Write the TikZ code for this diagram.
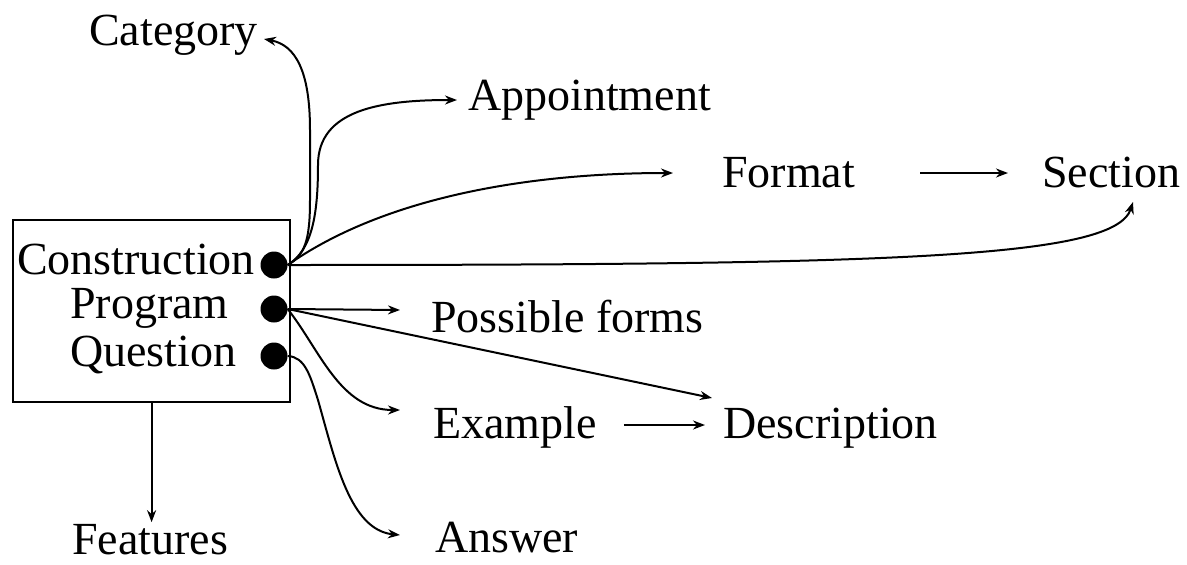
\documentclass[tikz,border=0pt]{standalone}
\usepackage{fontspec}
\setmainfont{Liberation Serif}
\usetikzlibrary{arrows.meta,calc}
\begin{document}
\begin{tikzpicture}[x=1pt,y=-1pt,
  word/.style={anchor=base west,inner sep=0pt,font=\fontsize{46}{50}\selectfont},
  dot/.style={circle,fill=black,inner sep=0pt,minimum size=27pt},
  arr/.style={line width=2pt,-{Stealth[length=12pt,width=9pt]}},
  frame/.style={draw,line width=2.2pt,inner sep=0pt}]
\useasboundingbox (0,0) rectangle (1187,565);

% the frame holding the three source terms
\node[frame,minimum width=277pt,minimum height=182pt,anchor=north west] (box) at (12,219) {};
\node[word] (cons) at (17,274) {Construction};
\node[word] (prog) at (70,318) {Program};
\node[word] (ques) at (70,366) {Question};
\node[dot] (c) at (274,265) {};
\node[dot] (p) at (274,309) {};
\node[dot] (q) at (274,356) {};

% target terms
\node[word] (cat) at (89,45) {Category};
\node[word] (app) at (468,110) {Appointment};
\node[word] (fmt) at (722,187) {Format};
\node[word] (sec) at (1042,187) {Section};
\node[word] (pos) at (431,332) {Possible forms};
\node[word] (exa) at (433,438) {Example};
\node[word] (des) at (723,438) {Description};
\node[word] (ans) at (435,552) {Answer};
\node[word] (fea) at (72,554) {Features};

% arrow tips just beside each term
\coordinate (catTip) at ($(cat.base east)+(6,-6)$);
\coordinate (appTip) at ($(app.base west)+(-11,-10)$);
\coordinate (fmtTip) at ($(fmt.base west)+(-49,-14)$);
\coordinate (secTip) at ($(sec.base west)+(91,15)$);
\coordinate (posTip) at ($(pos.base west)+(-31,-22)$);
\coordinate (desTip) at ($(des.base west)+(-11,-40)$);
\coordinate (exaTip) at ($(exa.base west)+(-33,-28)$);
\coordinate (ansTip) at ($(ans.base west)+(-35,-17)$);
\coordinate (feaTip) at ($(box.south)+(0,119)$);
\coordinate (exaOut) at ($(exa.base east)+(27,-13)$);
\coordinate (desIn) at ($(des.base west)+(-18,-13)$);
\coordinate (fmtOut) at ($(fmt.base east)+(65,-14)$);
\coordinate (secIn) at ($(sec.base west)+(-34,-14)$);

% connectors from Construction
\draw[arr] (c.east) .. controls (305,255) and (310,240) .. (310,200)
  -- (310,130) .. controls (310,70) and (295,45) .. (catTip);
\draw[arr] (c.east) .. controls (312,250) and (318,215) .. (318,165)
  .. controls (318,110) and (380,100) .. (appTip);
\draw[arr] (c.east) .. controls (380,200) and (520,173) .. (fmtTip);
\draw[arr] (c.east) .. controls (900,265) and (1115,258) .. (secTip);

% connectors from Program
\draw[arr] (p.east) -- (posTip);
\draw[arr] (p.east) -- (desTip);
\draw[arr] (p.east) .. controls (320,350) and (340,410) .. (exaTip);

% connector from Question
\draw[arr] (q.east) .. controls (305,357) and (310,375) .. (318,400)
  .. controls (335,460) and (350,530) .. (ansTip);

% chained terms
\draw[arr] (fmtOut) -- (secIn);
\draw[arr] (exaOut) -- (desIn);
\draw[arr] (box.south) -- (feaTip);
\end{tikzpicture}
\end{document}
